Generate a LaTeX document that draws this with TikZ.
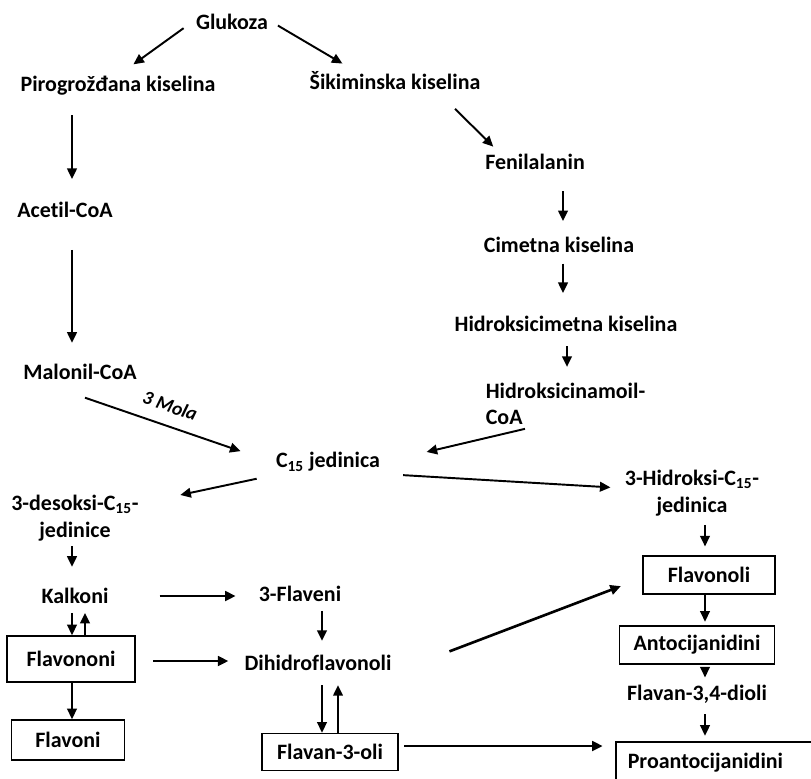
\documentclass[tikz,border=0pt]{standalone}
\usepackage{fontspec}
\setmainfont{Carlito}[Ligatures=NoCommon]
\usetikzlibrary{arrows.meta}

\tikzset{
  lbl/.style={font=\bfseries\fontsize{12.5}{15}\selectfont, inner sep=2pt},
  box/.style={lbl, draw, line width=0.9pt, minimum height=#1},
  box/.default=0.76cm,
  arr/.style={-{Triangle[length=6pt,width=5.5pt]}, line width=1.1pt},
  arrb/.style={arr, line width=1.5pt}
}

\begin{document}
\begin{tikzpicture}[x=0.02cm,y=-0.02cm]
      \useasboundingbox (0,0) rectangle (811,778);

      % upper part
      \node[lbl] (glu)   at (232,22)  {Glukoza};
      \node[lbl] (piro)  at (118,86)  {Pirogrožđana kiselina};
      \node[lbl] (siki)  at (395,81)  {Šikiminska kiselina};
      \node[lbl] (feni)  at (535,162) {Fenilalanin};
      \node[lbl] (acet)  at (65,210)  {Acetil-CoA};
      \node[lbl] (cime)  at (559,245) {Cimetna kiselina};
      \node[lbl] (hcim)  at (566,324) {Hidroksicimetna kiselina};
      \node[lbl] (malo)  at (80,372)  {Malonil-CoA};
      \node[lbl, align=left, anchor=west] (hcoa) at (482,404) {Hidroksicinamoil-\\CoA};

      % C15 level
      \node[lbl] (cjed)  at (328,462) {C\textsubscript{15} jedinica};
      \node[lbl, align=center] (desok) at (75,518)  {3-desoksi-C\textsubscript{15}-\\jedinice};
      \node[lbl, align=center] (hidro) at (692,493) {3-Hidroksi-C\textsubscript{15}-\\jedinica};

      % lower part
      \node[lbl] (kalk)  at (75,596)  {Kalkoni};
      \node[lbl] (flav)  at (300,594) {3-Flaveni};
      \node[lbl] (dihi)  at (318,663) {Dihidroflavonoli};
      \node[box=0.92cm, minimum width=2.56cm] (flvn) at (71,659)  {Flavononi};
      \node[box=0.8cm,  minimum width=2.26cm] (flvi) at (68,740)  {Flavoni};
      \node[box=0.74cm, minimum width=2.72cm] (f3ol) at (330,752) {Flavan-3-oli};
      \node[box, minimum width=2.64cm] (flol) at (709,575) {Flavonoli};
      \node[box, minimum width=3.1cm]  (anto) at (697,645) {Antocijanidini};
      \node[lbl] (diol)  at (697,694) {Flavan-3,4-dioli};
      \node[box=0.84cm, text width=4cm, inner xsep=0.24cm, align=left, anchor=north west] (proa) at (615,741) {Proantocijanidini};

      \draw[arr, shorten <=6pt, shorten >=8pt] (glu.west) -- (piro.north -| 122,0);
      \draw[arr, shorten <=4pt, shorten >=5pt] (glu.east) -- (siki.north -| 350,0);
      \draw[arr, shorten <=12pt, shorten >=3pt] (siki.south -| 440,0) -- (feni.north -| 497,0);
      \draw[arr, shorten <=9pt, shorten >=11pt] (piro.south -| 72,0) -- (acet.north -| 72,0);
      \draw[arr, shorten <=16pt, shorten >=10pt] (acet.south -| 72,0) -- (malo.north -| 72,0);
      \draw[arr, shorten <=10pt, shorten >=7pt] (feni.south -| 563,0) -- (cime.north -| 563,0);
      \draw[arr, shorten <=4pt, shorten >=11pt] (cime.south -| 563,0) -- (hcim.north -| 563,0);
      \draw[arr, shorten <=6pt, shorten >=7pt] (hcim.south -| 567,0) -- (hcoa.north -| 567,0);

      \draw[arr, shorten >=19pt] ([yshift=-8pt]malo.south -| 85,0) -- (cjed.west)
        node[lbl, pos=0.42, above=5pt, sloped, font=\bfseries\itshape\fontsize{11}{13}\selectfont] {3 Mola};
      \draw[arr, shorten >=25pt] (hcoa.south -| 525,0) -- (cjed.east);
      \draw[arr, shorten <=9pt, shorten >=22pt] (cjed.south west) -- (desok.east |- 0,503);
      \draw[arr, shorten <=11pt, shorten >=6pt] (cjed.east |- 0,474) -- (hidro.west |- 0,488);

      \draw[arr, shorten <=1pt, shorten >=10pt] (desok.south -| 72,0) -- (kalk.north -| 72,0);
      \draw[arrb, shorten <=27pt, shorten >=11pt] (kalk.east) -- (flav.west |- kalk);
      \draw[arr, shorten <=3pt, shorten >=6pt] (flav.south -| 322,0) -- (dihi.north -| 322,0);
      \draw[arr, shorten <=3pt] (kalk.south -| 72,0) -- (flvn.north -| 72,0);
      \draw[arr, shorten >=3pt] (flvn.north -| 85,0) -- (kalk.south -| 85,0);
      \draw[arrb, shorten <=10pt, shorten >=7pt] (flvn.east |- 0,661) -- (dihi.west |- 0,661);
      \draw[arr] (flvn.south -| 72,0) -- (flvi.north -| 72,0);
      \draw[arr, shorten <=6pt] (dihi.south -| 322,0) -- (f3ol.north -| 322,0);
      \draw[arr, shorten >=6pt] (f3ol.north -| 338,0) -- (dihi.south -| 338,0);
      \draw[arrb, shorten <=3pt, shorten >=7pt] (f3ol.east |- 0,746) -- (proa.west |- 0,746);
      \draw[arrb, shorten <=33pt, shorten >=13pt] (dihi.east |- 0,672) -- (flol.west |- 0,578);

      \draw[arr, shorten <=3pt, shorten >=5pt] (hidro.south -| 705,0) -- (flol.north -| 705,0);
      \draw[arr, shorten >=2pt] (flol.south -| 705,0) -- (anto.north -| 705,0);
      \draw[arr, shorten <=2pt, shorten >=2pt] (anto.south -| 705,0) -- (diol.north -| 705,0);
      \draw[arr, shorten <=4pt, shorten >=3pt] (diol.south -| 705,0) -- (proa.north -| 705,0);
\end{tikzpicture}
\end{document}
